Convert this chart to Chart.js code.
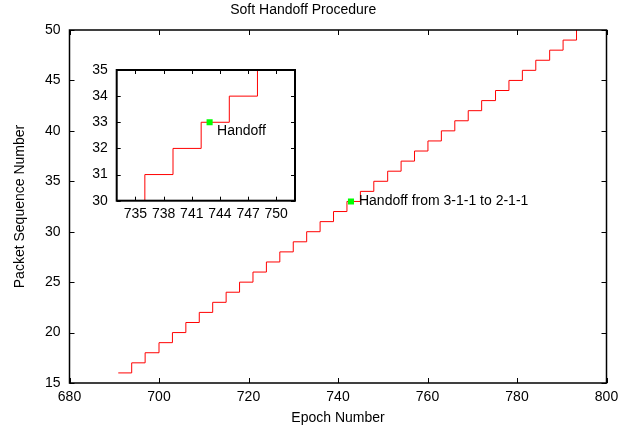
<!DOCTYPE html>
<html>
<head>
<meta charset="utf-8">
<script src="https://cdn.jsdelivr.net/npm/chart.js@4/dist/chart.umd.min.js"></script>
<style>
  html, body { margin: 0; padding: 0; background: #fff; }
  #wrap { position: relative; width: 634px; height: 432px; }
  #main { position: absolute; left: 0; top: 0; }
  #inset { position: absolute; left: 70px; top: 60px; }
</style>
</head>
<body>
<div id="wrap">
  <canvas id="main" width="634" height="432"></canvas>
  <canvas id="inset" width="240" height="170"></canvas>
</div>
<script>
// ---- data ----
const packetSeq = [16,17,18,19,20,21,22,23,24,25,26,27,28,29,30,31,32,33,34,35,36,37,38,39,40,41,42,43,44,45,46,47,48,49,50];
const epochArrival = [690.9,693.9,696.9,700.0,703.0,706.0,709.0,712.0,715.0,718.0,721.0,724.0,727.0,730.0,733.0,736.0,739.0,742.0,745.0,748.0,751.1,754.1,757.1,760.1,763.1,766.1,769.1,772.1,775.2,778.2,781.2,784.2,787.3,790.3,793.3];
const handoffEpoch = [742.9];
const handoffSeq = [33];
const mainLabel = 'Handoff from 3-1-1 to 2-1-1';
const insetLabel = 'Handoff';
const mainXTicks = [680,700,720,740,760,780,800];
const mainYTicks = [15,20,25,30,35,40,45,50];
const insetXTicks = [735,738,741,744,747,750];
const insetYTicks = [30,31,32,33,34,35];

const FONT = "'Liberation Sans', Arial, Helvetica, sans-serif";
const stepPts = epochArrival.map((x, i) => ({x, y: packetSeq[i]}));
const hoPts = handoffEpoch.map((x, i) => ({x, y: handoffSeq[i]}));

const framePlugin = {
  id: 'frame',
  afterDatasetsDraw(chart, args, opts) {
    const {ctx, chartArea: a, scales: {x, y}} = chart;
    const L = opts.tickLen;
    ctx.save();
    ctx.strokeStyle = '#000';
    ctx.lineWidth = opts.tickWidth;
    ctx.beginPath();
    x.ticks.forEach(t => {
      const px = Math.round(x.getPixelForValue(t.value)) + 0.5;
      ctx.moveTo(px, a.bottom); ctx.lineTo(px, a.bottom - L);
      ctx.moveTo(px, a.top); ctx.lineTo(px, a.top + L);
    });
    y.ticks.forEach(t => {
      const py = Math.round(y.getPixelForValue(t.value)) + 0.5;
      ctx.moveTo(a.left, py); ctx.lineTo(a.left + L, py);
      ctx.moveTo(a.right, py); ctx.lineTo(a.right - L, py);
    });
    ctx.stroke();
    ctx.lineWidth = opts.borderWidth;
    ctx.strokeRect(a.left, a.top, a.right - a.left, a.bottom - a.top);
    // annotation text
    ctx.fillStyle = '#000';
    ctx.font = '14px ' + FONT;
    ctx.textAlign = 'left';
    ctx.textBaseline = 'middle';
    const lx = x.getPixelForValue(handoffEpoch[0]) + opts.labelDx;
    const ly = y.getPixelForValue(handoffSeq[0]) + opts.labelDy;
    ctx.fillText(opts.label, lx, ly);
    ctx.restore();
  }
};

function makeChart(el, cfg) {
  return new Chart(el, {
    type: 'line',
    data: {
      datasets: [
        {
          data: stepPts,
          borderColor: 'rgb(255,0,0)',
          borderWidth: 1,
          pointRadius: 0,
          stepped: true,
          fill: false,
          order: 2
        },
        {
          data: hoPts,
          showLine: false,
          pointStyle: 'rect',
          pointRadius: 4.3,
          pointBackgroundColor: '#00ff00',
          pointBorderWidth: 0,
          pointBorderColor: '#00ff00',
          order: 1
        }
      ]
    },
    options: {
      responsive: false,
      animation: false,
      events: [],
      layout: { padding: cfg.padding },
      plugins: {
        legend: { display: false },
        tooltip: { enabled: false },
        title: cfg.title,
        frame: cfg.frame
      },
      scales: {
        x: {
          type: 'linear',
          min: cfg.xMin, max: cfg.xMax,
          grid: { display: false, drawTicks: false, tickLength: 0 },
          border: { display: false },
          ticks: { color: '#000', font: { family: FONT, size: 14 }, padding: cfg.xPad, maxRotation: 0, autoSkip: false },
          afterBuildTicks: s => { s.ticks = cfg.xTicks.map(v => ({value: v})); },
          afterFit: s => { s.height = cfg.xH; s.paddingLeft = 0; s.paddingRight = 0; },
          title: cfg.xTitle
        },
        y: {
          type: 'linear',
          min: cfg.yMin, max: cfg.yMax,
          grid: { display: false, drawTicks: false, tickLength: 0 },
          border: { display: false },
          ticks: { color: '#000', font: { family: FONT, size: 14 }, padding: cfg.yPad, autoSkip: false },
          afterBuildTicks: s => { s.ticks = cfg.yTicks.map(v => ({value: v})); },
          afterFit: s => { s.width = cfg.yW; s.paddingTop = 0; s.paddingBottom = 0; },
          title: cfg.yTitle
        }
      }
    },
    plugins: [framePlugin]
  });
}

makeChart(document.getElementById('main'), {
  padding: { top: 0, right: 27.5, bottom: 0, left: 0 },
  title: { display: true, text: 'Soft Handoff Procedure', color: '#000',
           font: { family: FONT, size: 14, weight: 'normal' }, padding: { top: 2, bottom: 11.2 } },
  frame: { tickLen: 5, tickWidth: 1, borderWidth: 1.5, label: mainLabel, labelDx: 8, labelDy: 0 },
  xMin: 680, xMax: 800, yMin: 15, yMax: 50,
  xTicks: mainXTicks, yTicks: mainYTicks,
  xPad: 5.5, yPad: 9, xH: 49, yW: 69.5,
  xTitle: { display: true, text: 'Epoch Number', color: '#000', font: { family: FONT, size: 14 }, padding: { top: 0, bottom: 5.4 } },
  yTitle: { display: true, text: 'Packet Sequence Number', color: '#000', font: { family: FONT, size: 14 }, padding: { top: 11.6, bottom: 0 } }
});

makeChart(document.getElementById('inset'), {
  padding: { top: 10, right: 15, bottom: 0, left: 0 },
  title: { display: false },
  frame: { tickLen: 4, tickWidth: 1, borderWidth: 2, label: insetLabel, labelDx: 7.5, labelDy: 8.5 },
  xMin: 733, xMax: 752, yMin: 30, yMax: 35,
  xTicks: insetXTicks, yTicks: insetYTicks,
  xPad: 5.1, yPad: 9, xH: 29.3, yW: 46.7,
  xTitle: { display: false },
  yTitle: { display: false }
});
</script>
</body>
</html>
